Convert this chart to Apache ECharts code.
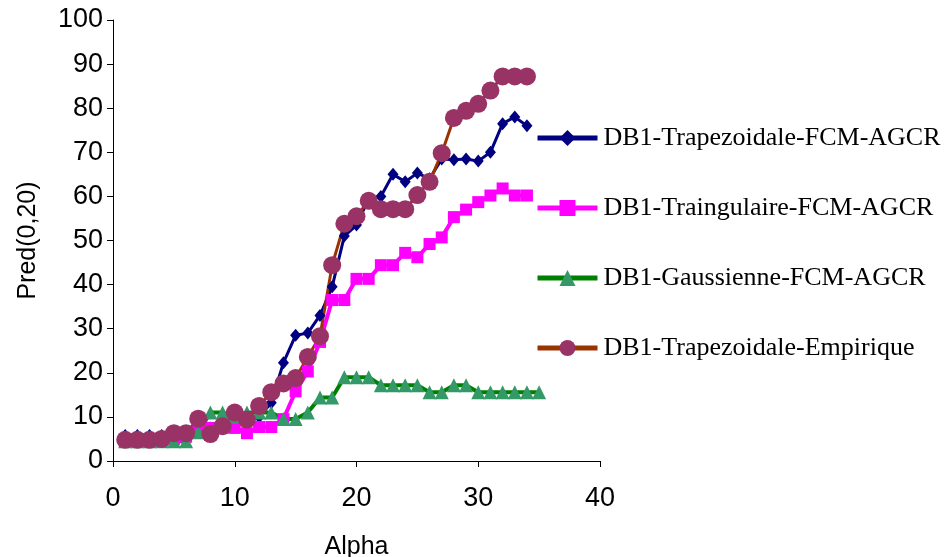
<!DOCTYPE html>
<html>
<head>
<meta charset="utf-8">
<script src="https://cdn.jsdelivr.net/npm/echarts@6/dist/echarts.min.js"></script>
<style>
  html, body { margin: 0; padding: 0; background: #fff; }
  #chart { width: 951px; height: 557px; }
</style>
</head>
<body>
<div id="chart"></div>
<script>
const SERIES_NAMES = [
  "DB1-Trapezoidale-FCM-AGCR",
  "DB1-Traingulaire-FCM-AGCR",
  "DB1-Gaussienne-FCM-AGCR",
  "DB1-Trapezoidale-Empirique",
];

// valeurs lues pour alpha = 1, 2, 3 ...
const trapezoidaleFcm = [
  5.8, 5.8, 5.8, 5.8, 6, 6.5, 7, 7.5, 8, 8.5,
  9, 10, 13.2, 22.3, 28.5, 29, 33, 39.5, 51, 53.5,
  59.5, 60, 65, 63.3, 65.3, 64, 68.5, 68.3, 68.5, 68,
  70, 76.5, 78, 76,
];
const triangulaireFcm = [
  4.8, 4.8, 4.8, 4.8, 5, 5.5, 7.5, 7.5, 7.5, 7.5,
  6.3, 7.7, 7.7, 9.5, 15.8, 20.3, 27, 36.5, 36.5, 41.3,
  41.3, 44.4, 44.4, 47.2, 46.2, 49.2, 50.7, 55.3, 57, 58.7,
  60.2, 61.8, 60.2, 60.2,
];
const gaussienneFcm = [
  4.5, 4.5, 4.5, 4.5, 4.5, 4.5, 6.5, 11, 11, 10,
  11, 11, 11, 9.5, 9.5, 11, 14.4, 14.4, 19, 19,
  19, 17.2, 17.2, 17.2, 17.2, 15.6, 15.6, 17.2, 17.2, 15.6,
  15.6, 15.6, 15.6, 15.6, 15.6,
];
const trapezoidaleEmpirique = [
  4.8, 4.8, 4.8, 5, 6.3, 6.3, 9.6, 6.1, 7.9, 11,
  9.4, 12.5, 15.6, 17.6, 18.8, 23.6, 28.3, 44.4, 53.8, 55.5,
  59, 57.1, 57.1, 57.1, 60.3, 63.3, 69.8, 77.8, 79.4, 81,
  84, 87.2, 87.2, 87.2,
];

const X_TICKS = [0, 10, 20, 30, 40];
const Y_TICKS = [0, 10, 20, 30, 40, 50, 60, 70, 80, 90, 100];

const SANS = "Liberation Sans, Arial, sans-serif";
const SERIF = "Liberation Serif, Times New Roman, serif";

const toPoints = (values) => values.map((v, i) => [i + 1, v]);

const lineSeries = (name, values, lineColor, lineWidth, symbol, symbolSize, symbolColor) => ({
  name,
  type: "line",
  data: toPoints(values),
  symbol,
  symbolSize,
  showAllSymbol: true,
  lineStyle: { color: lineColor, width: lineWidth },
  itemStyle: { color: symbolColor, borderWidth: 0 },
  emphasis: { disabled: true },
  animation: false,
});

const axisCommon = {
  axisLine: { show: true, lineStyle: { color: "#000", width: 1 } },
  axisTick: { show: true, inside: false, length: 6, lineStyle: { color: "#000" } },
  splitLine: { show: false },
  nameLocation: "middle",
  nameTextStyle: { fontFamily: SANS, fontSize: 25, color: "#000" },
};

const chart = echarts.init(document.getElementById("chart"), null, { renderer: "canvas" });

chart.setOption({
  backgroundColor: "#fff",
  animation: false,
  grid: { left: 113, right: 351, top: 20, bottom: 96, outerBoundsMode: "none", containLabel: false },
  xAxis: {
    ...axisCommon,
    type: "value",
    min: X_TICKS[0],
    max: X_TICKS[X_TICKS.length - 1],
    interval: 10,
    name: "Alpha",
    nameGap: 74,
    axisLabel: { fontFamily: SANS, fontSize: 27, color: "#000", margin: 24 },
  },
  yAxis: {
    ...axisCommon,
    type: "value",
    min: Y_TICKS[0],
    max: Y_TICKS[Y_TICKS.length - 1],
    interval: 10,
    name: "Pred(0,20)",
    nameGap: 72,
    axisLabel: { fontFamily: SANS, fontSize: 27, color: "#000", margin: 10 },
  },
  legend: {
    orient: "vertical",
    left: 535,
    top: 125,
    padding: 0,
    itemWidth: 60,
    itemHeight: 20,
    itemGap: 44,
    lineStyle: { width: 5 },
    textStyle: { fontFamily: SERIF, fontSize: 26, color: "#000", padding: [0, 0, 0, 1] },
    data: SERIES_NAMES,
    selectedMode: false,
  },
  series: [
    lineSeries(SERIES_NAMES[0], trapezoidaleFcm, "#000080", 3, "diamond", [11, 13], "#000080"),
    lineSeries(SERIES_NAMES[1], triangulaireFcm, "#ff00ff", 4, "rect", 12, "#ff00ff"),
    lineSeries(SERIES_NAMES[2], gaussienneFcm, "#008000", 4, "triangle", 14, "#339966"),
    lineSeries(SERIES_NAMES[3], trapezoidaleEmpirique, "#993300", 3, "circle", 18, "#993366"),
  ],
});
</script>
</body>
</html>
